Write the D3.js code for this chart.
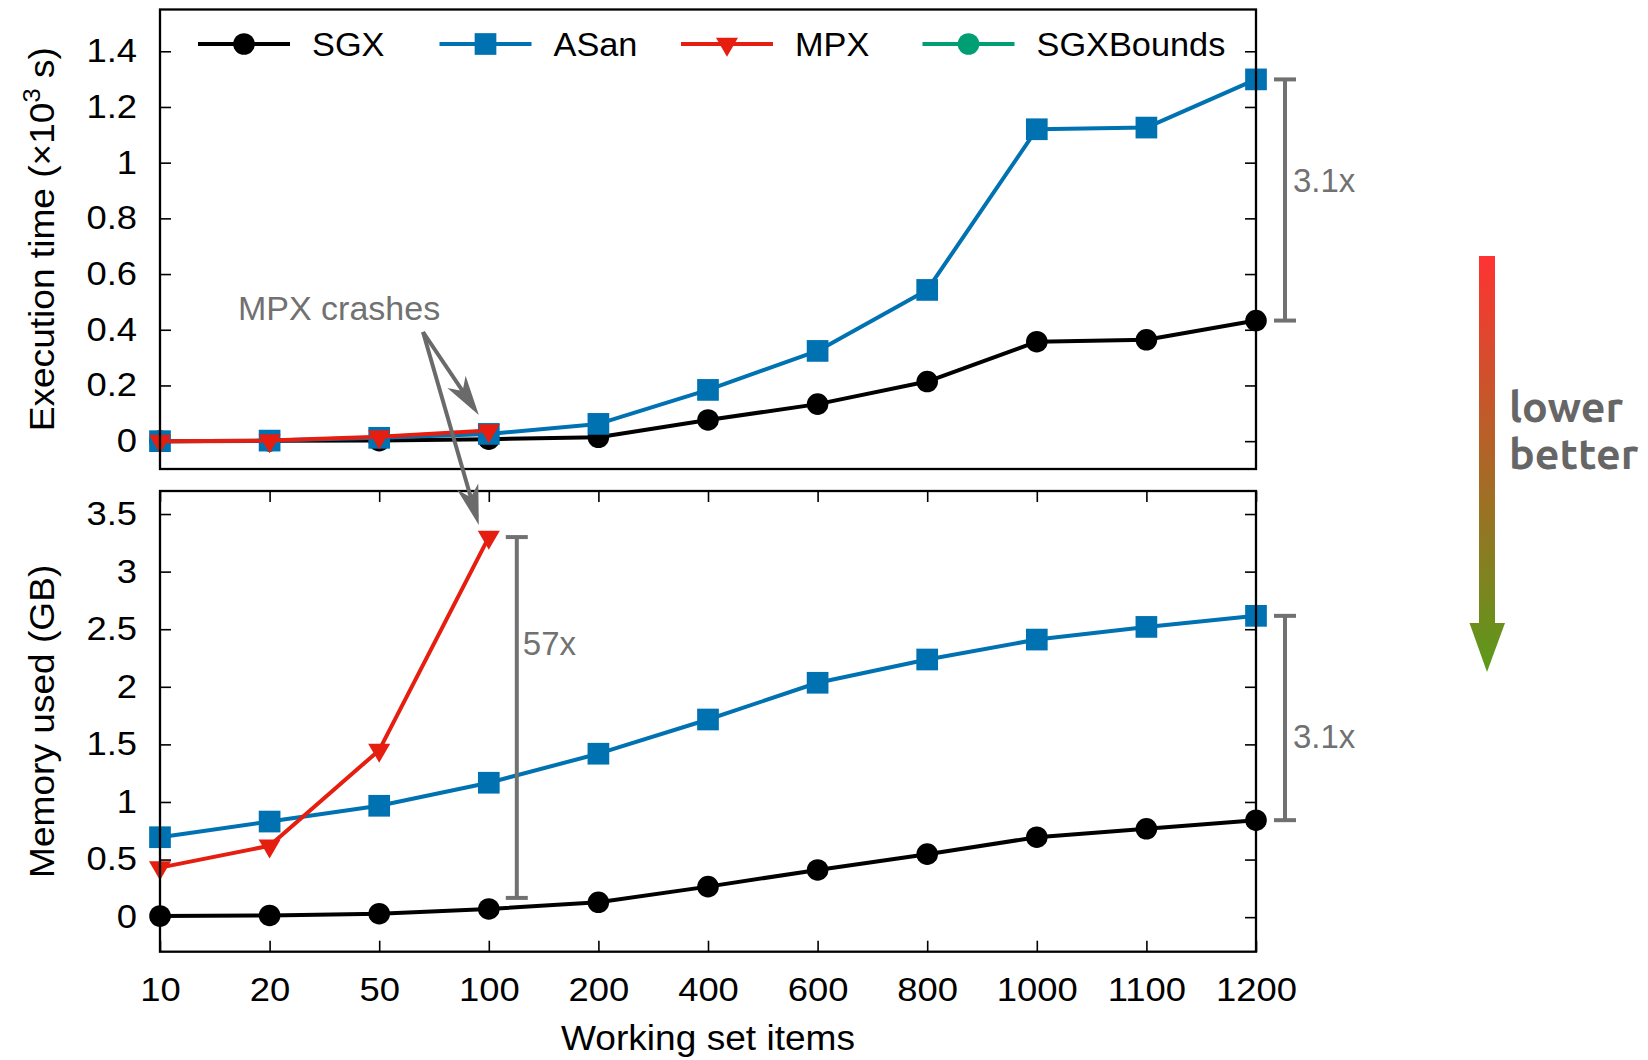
<!DOCTYPE html>
<html>
<head>
<meta charset="utf-8">
<script src="https://cdnjs.cloudflare.com/ajax/libs/d3/7.8.5/d3.min.js"></script>
<style>
  body { margin: 0; background: #fff; }
  svg { display: block; }
</style>
</head>
<body>
<svg id="chart" width="1648" height="1060"></svg>
<script>
// working set sizes (categorical x axis)
var categories = ["10", "20", "50", "100", "200", "400", "600", "800", "1000", "1100", "1200"];

// execution time, x10^3 s
var timeSGX  = [0, 0.001, 0.002, 0.007, 0.014, 0.076, 0.133, 0.214, 0.357, 0.364, 0.433];
var timeASan = [0, 0.002, 0.012, 0.026, 0.062, 0.184, 0.324, 0.543, 1.120, 1.126, 1.299];
var timeMPX  = [0, 0.002, 0.016, 0.038];            // MPX crashes after 100 items

// memory used, GB
var memSGX  = [0.010, 0.015, 0.030, 0.071, 0.129, 0.265, 0.410, 0.547, 0.694, 0.767, 0.842];
var memASan = [0.694, 0.830, 0.967, 1.167, 1.419, 1.716, 2.035, 2.237, 2.410, 2.520, 2.616];
var memMPX  = [0.43, 0.62, 1.45, 3.30];

var timeTicks = [0, 0.2, 0.4, 0.6, 0.8, 1, 1.2, 1.4];
var memTicks  = [0, 0.5, 1, 1.5, 2, 2.5, 3, 3.5];

var legendNames = ["SGX", "ASan", "MPX", "SGXBounds"];

// ratio annotations: [category, high value, low value, label]
var timeRatio = ["1200", 1.299, 0.433, "3.1x"];
var memRatio  = ["1200", 2.616, 0.842, "3.1x"];
var mpxRatio  = ["100", 3.30, 0.167, "57x"];

(function() {
  var colors = { SGX: "#000000", ASan: "#0072b2", MPX: "#e51e10", SGXBounds: "#009e73" };
  var gray = "#717171";
  var font = "'Liberation Sans', Arial, sans-serif";

  var svg = d3.select("#chart");
  var left = 160, right = 1256;
  var topPanel = { top: 9.5, bottom: 469 };
  var botPanel = { top: 491, bottom: 951.7 };

  var x = d3.scalePoint().domain(categories).range([left, right]).padding(0);
  var yTime = d3.scaleLinear().domain([-0.1, 1.55]).range([topPanel.bottom, topPanel.top]);
  var yMem = d3.scaleLinear().domain([-0.3, 3.7]).range([botPanel.bottom, botPanel.top]);

  var symbols = {
    SGX: d3.symbol(d3.symbolCircle, 366),
    ASan: d3.symbol(d3.symbolSquare, 471),
    MPX: d3.symbol(d3.symbolTriangle, 210),
    SGXBounds: d3.symbol(d3.symbolCircle, 366)
  };
  function markerTransform(name, px, py) {
    return "translate(" + px + "," + py + ")" + (name == "MPX" ? " rotate(180)" : "");
  }

  // gradient for the "lower better" arrow
  var defs = svg.append("defs");
  var grad = defs.append("linearGradient").attr("id", "lb")
      .attr("gradientUnits", "userSpaceOnUse")
      .attr("x1", 0).attr("x2", 0).attr("y1", 256).attr("y2", 672);
  grad.append("stop").attr("offset", "0%").attr("stop-color", "#ff3333");
  grad.append("stop").attr("offset", "100%").attr("stop-color", "#5a9a1a");

  function styleTicks(g) {
    g.select(".domain").remove();
    g.selectAll(".tick line").attr("stroke", "#000").attr("stroke-width", 1.6);
    g.selectAll(".tick text")
      .style("font-family", font)
      .style("font-size", "32.5px")
      .attr("fill", "#000");
  }

  function drawPanel(panel, y, ticks, series) {
    var g = svg.append("g");

    // left y axis with labels
    var la = g.append("g").attr("transform", "translate(" + left + ",0)")
        .call(d3.axisLeft(y).tickValues(ticks).tickSize(-11).tickPadding(23)
          .tickFormat(function(d) { return d3.format("")(d); }));
    styleTicks(la);
    la.selectAll(".tick text")
      .attr("x", -23 / 1.12)
      .attr("transform", "scale(1.12,1)");

    // mirrored right ticks
    var ra = g.append("g").attr("transform", "translate(" + right + ",0)")
        .call(d3.axisRight(y).tickValues(ticks).tickSize(-11).tickFormat(""));
    styleTicks(ra);

    // series lines + points
    series.forEach(function(s) {
      var pts = s.values.map(function(v, i) { return [x(categories[i]), y(v)]; });
      g.append("path")
        .attr("d", d3.line()(pts))
        .attr("fill", "none")
        .attr("stroke", colors[s.name])
        .attr("stroke-width", 4)
        .attr("stroke-linejoin", "round");
      g.selectAll(".pt-" + s.name)
        .data(pts)
        .enter()
        .append("path")
        .attr("d", symbols[s.name])
        .attr("transform", function(d) { return markerTransform(s.name, d[0], d[1]); })
        .attr("fill", colors[s.name]);
    });

    g.append("rect")
      .attr("x", left).attr("y", panel.top)
      .attr("width", right - left).attr("height", panel.bottom - panel.top)
      .attr("fill", "none").attr("stroke", "#000").attr("stroke-width", 2.3);
    return g;
  }

  drawPanel(topPanel, yTime, timeTicks, [
    { name: "SGX", values: timeSGX },
    { name: "ASan", values: timeASan },
    { name: "MPX", values: timeMPX }
  ]);
  var bottom = drawPanel(botPanel, yMem, memTicks, [
    { name: "SGX", values: memSGX },
    { name: "ASan", values: memASan },
    { name: "MPX", values: memMPX }
  ]);

  // x axis (bottom panel only)
  var xa = bottom.append("g").attr("transform", "translate(0," + botPanel.bottom + ")")
      .call(d3.axisBottom(x).tickSize(-11).tickPadding(26));
  styleTicks(xa);
  xa.selectAll(".tick text").attr("transform", "scale(1.12,1)")
    .attr("x", 0);
  var xt = bottom.append("g").attr("transform", "translate(0," + botPanel.top + ")")
      .call(d3.axisTop(x).tickSize(-11).tickFormat(""));
  styleTicks(xt);

  // axis titles
  svg.append("text")
    .attr("transform", "translate(708,1050) scale(1.06,1)")
    .attr("text-anchor", "middle")
    .style("font-family", font).style("font-size", "35px")
    .text("Working set items");

  var t1 = svg.append("text")
    .attr("transform", "translate(54," + ((topPanel.top + topPanel.bottom) / 2) + ") rotate(-90) scale(1.06,1)")
    .attr("text-anchor", "middle")
    .style("font-family", font).style("font-size", "35px");
  t1.append("tspan").text("Execution time (\u00d710");
  t1.append("tspan").attr("dy", -14).style("font-size", "24px").text("3");
  t1.append("tspan").attr("dy", 14).text(" s)");

  svg.append("text")
    .attr("transform", "translate(54," + ((botPanel.top + botPanel.bottom) / 2) + ") rotate(-90) scale(1.06,1)")
    .attr("text-anchor", "middle")
    .style("font-family", font).style("font-size", "35px")
    .text("Memory used (GB)");

  // legend
  var legend = svg.selectAll(".legend")
      .data(legendNames)
      .enter().append("g")
      .attr("class", "legend")
      .attr("transform", function(d, i) { return "translate(" + (198 + i * 241.5) + ",44)"; });
  legend.append("line")
    .attr("x1", 0).attr("x2", 92).attr("y1", 0).attr("y2", 0)
    .attr("stroke", function(d) { return colors[d]; })
    .attr("stroke-width", 4);
  legend.append("path")
    .attr("d", function(d) { return symbols[d](); })
    .attr("transform", function(d) { return markerTransform(d, 46, 0); })
    .attr("fill", function(d) { return colors[d]; });
  legend.append("text")
    .attr("transform", "translate(114,0) scale(1.04,1)")
    .attr("dy", "0.36em")
    .style("font-family", font).style("font-size", "33px")
    .text(function(d) { return d; });

  // ratio bars
  function ratioBar(r, y, dx, labelDx, labelY) {
    var bx = x(r[0]) + dx;
    var g = svg.append("g").attr("stroke", gray).attr("stroke-width", 4);
    g.append("line").attr("x1", bx).attr("x2", bx).attr("y1", y(r[1])).attr("y2", y(r[2]));
    g.append("line").attr("x1", bx - 11).attr("x2", bx + 11).attr("y1", y(r[1])).attr("y2", y(r[1]));
    g.append("line").attr("x1", bx - 11).attr("x2", bx + 11).attr("y1", y(r[2])).attr("y2", y(r[2]));
    svg.append("text")
      .attr("x", bx + labelDx).attr("y", labelY)
      .attr("fill", gray)
      .style("font-family", font).style("font-size", "33px")
      .text(r[3]);
  }
  ratioBar(timeRatio, yTime, 29, 8, 191.5);
  ratioBar(memRatio, yMem, 29, 8, 748);
  ratioBar(mpxRatio, yMem, 28, 6, 655);

  // MPX crashes note with arrows
  svg.append("text")
    .attr("x", 238).attr("y", 320)
    .attr("fill", gray)
    .style("font-family", font).style("font-size", "34px")
    .text("MPX crashes");
  var start = [423, 332];
  var tips = [[x("100") - 10, 415], [x("100") - 10, 525]];
  tips.forEach(function(t) {
    var dx = t[0] - start[0], dy = t[1] - start[1];
    var len = Math.sqrt(dx * dx + dy * dy);
    var ex = t[0] - dx / len * 8, ey = t[1] - dy / len * 8;
    svg.append("line")
      .attr("x1", start[0]).attr("y1", start[1])
      .attr("x2", ex).attr("y2", ey)
      .attr("stroke", "#6a6a6a").attr("stroke-width", 4);
    svg.append("path")
      .attr("d", "M0,0 L-40,-11 L-29,0 L-40,11 Z")
      .attr("fill", "#6a6a6a")
      .attr("transform", "translate(" + t[0] + "," + t[1] + ") rotate(" + (Math.atan2(dy, dx) * 180 / Math.PI) + ")");
  });

  // "lower better" gradient arrow
  var ga = svg.append("g").attr("fill", "url(#lb)");
  ga.append("rect").attr("x", 1479).attr("y", 256).attr("width", 16).attr("height", 368);
  ga.append("path").attr("d", "M1469.5,623 L1505,623 L1487,672 Z");
  var lb = svg.append("text")
    .attr("fill", "#666")
    .style("font-family", "Ubuntu, 'Open Sans', sans-serif")
    .style("font-weight", "bold")
    .style("font-size", "43px");
  lb.append("tspan").attr("x", 1509).attr("y", 421.5).text("lower");
  lb.append("tspan").attr("x", 1509).attr("y", 469).text("better");
})();
</script>
</body>
</html>
